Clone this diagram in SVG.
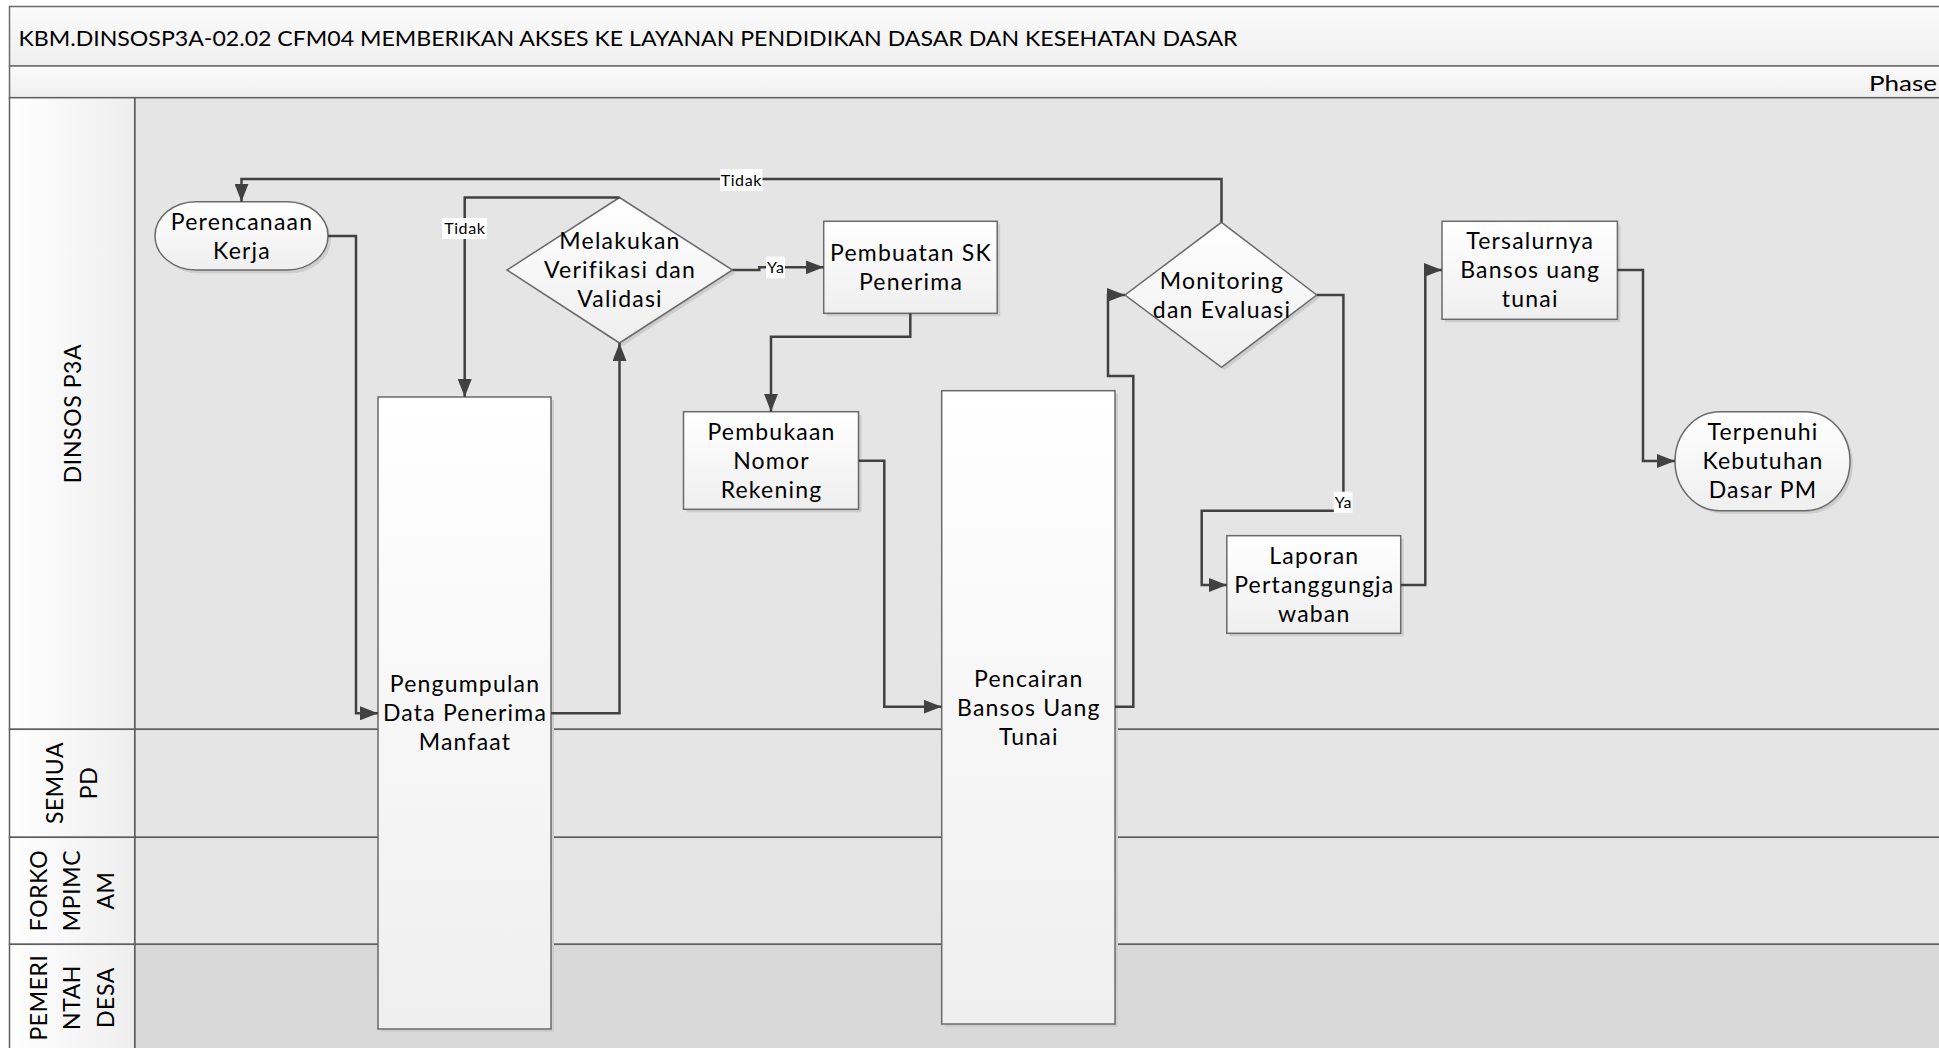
<svg xmlns="http://www.w3.org/2000/svg" width="1939" height="1048" viewBox="0 0 1939 1048">
<style>
.band{stroke:#6b6b6b;stroke-width:1.5}
.lane{fill:#e5e5e5;stroke:#5f5f5f;stroke-width:1.5}
.lane2{fill:#d9d9d9;stroke:#5f5f5f;stroke-width:1.5}
.hdr{fill:url(#hg);stroke:#5f5f5f;stroke-width:1.5}
.node{fill:url(#ng);stroke:#6a6a6a;stroke-width:1.5}
.shadow{fill:#cdcdcd}
.t{font-family:Lato,"Open Sans","Liberation Sans",sans-serif;font-size:23px;letter-spacing:1.2px;fill:#000;text-anchor:middle}
.lt{font-family:Lato,"Open Sans","Liberation Sans",sans-serif;font-size:23px;letter-spacing:0.6px;fill:#000;text-anchor:middle}
.title{font-family:Lato,"Open Sans","Liberation Sans",sans-serif;font-size:21px;fill:#000}
.conn path{fill:none;stroke:#414141;stroke-width:2.5;marker-end:url(#arr)}
.lbox{fill:#fff}
.lbl{font-family:Lato,"Open Sans","Liberation Sans",sans-serif;font-size:16px;letter-spacing:0.6px;fill:#000;text-anchor:middle}
</style>
<defs>
<linearGradient id="ng" x1="0" y1="0" x2="0" y2="1"><stop offset="0" stop-color="#ffffff"/><stop offset="1" stop-color="#efefef"/></linearGradient>
<linearGradient id="bg" x1="0" y1="0" x2="0" y2="1"><stop offset="0" stop-color="#fbfbfb"/><stop offset="1" stop-color="#efefef"/></linearGradient>
<linearGradient id="hg" x1="0" y1="0" x2="1" y2="0"><stop offset="0" stop-color="#ffffff"/><stop offset="1" stop-color="#eeeeee"/></linearGradient>
<marker id="arr" markerUnits="userSpaceOnUse" markerWidth="18" markerHeight="14" refX="18" refY="7" orient="auto"><path d="M0,0 L18,7 L0,14 z" fill="#414141"/></marker>
</defs>

<g id="frame">
<rect x="0" y="0" width="1939" height="1048" fill="#ffffff"/>
<rect class="band" x="9.5" y="6.5" width="2000" height="59.5" fill="url(#bg)"/>
<rect class="band" x="9.5" y="66" width="2000" height="31.7" fill="url(#bg)"/>
<text class="title" x="18.5" y="46" textLength="1219" lengthAdjust="spacingAndGlyphs">KBM.DINSOSP3A-02.02 CFM04 MEMBERIKAN AKSES KE LAYANAN PENDIDIKAN DASAR DAN KESEHATAN DASAR</text>
<text class="title" x="1937" y="91" text-anchor="end" style="font-size:22px" textLength="68" lengthAdjust="spacingAndGlyphs">Phase</text>
</g>

<g id="lane-dinsos">
<rect class="lane" x="134.7" y="97.7" width="1900" height="631.6"/>
<rect class="hdr" x="9.5" y="97.7" width="125.2" height="631.6"/>
<text class="lt" transform="translate(72,413.5) rotate(-90)" x="0" y="8.5">DINSOS P3A</text>
</g>
<g id="lane-semua">
<rect class="lane" x="134.7" y="729.3" width="1900" height="108"/>
<rect class="hdr" x="9.5" y="729.3" width="125.2" height="108"/>
<text class="lt" transform="translate(71.5,783) rotate(-90)"><tspan x="0" y="-8.5">SEMUA</tspan><tspan x="0" y="25.5">PD</tspan></text>
</g>
<g id="lane-forko">
<rect class="lane" x="134.7" y="837.3" width="1900" height="107"/>
<rect class="hdr" x="9.5" y="837.3" width="125.2" height="107"/>
<text class="lt" transform="translate(71.5,890.5) rotate(-90)"><tspan x="0" y="-25">FORKO</tspan><tspan x="0" y="8.5">MPIMC</tspan><tspan x="0" y="42">AM</tspan></text>
</g>
<g id="lane-desa">
<rect class="lane2" x="134.7" y="944.3" width="1900" height="150"/>
<rect class="hdr" x="9.5" y="944.3" width="125.2" height="150"/>
<text class="lt" transform="translate(71.5,997.5) rotate(-90)"><tspan x="0" y="-25">PEMERI</tspan><tspan x="0" y="8.5">NTAH</tspan><tspan x="0" y="42">DESA</tspan></text>
</g>

<g id="n-perencanaan">
<rect class="shadow" x="158" y="205" width="173" height="68.3" rx="41" ry="34"/>
<rect class="node" x="155" y="201.7" width="173" height="68.3" rx="41" ry="34"/>
<text class="t"><tspan x="242" y="229.5">Perencanaan</tspan><tspan x="242" y="258.5">Kerja</tspan></text>
</g>

<g id="n-pengumpulan">
<rect class="shadow" x="381" y="400" width="173" height="632"/>
<rect class="node" x="378" y="397" width="173" height="632"/>
<text class="t"><tspan x="465" y="692">Pengumpulan</tspan><tspan x="465" y="721">Data Penerima</tspan><tspan x="465" y="750">Manfaat</tspan></text>
</g>

<g id="n-verifikasi">
<path class="shadow" d="M622.5,200.5 L735.5,273 L622.5,346 L510,273 z"/>
<path class="node" d="M619.5,197.5 L732.5,270 L619.5,343 L507,270 z"/>
<text class="t"><tspan x="620" y="249">Melakukan</tspan><tspan x="620" y="278">Verifikasi dan</tspan><tspan x="620" y="307">Validasi</tspan></text>
</g>

<g id="n-pembuatan">
<rect class="shadow" x="826.7" y="224.3" width="173.5" height="92"/>
<rect class="node" x="823.7" y="221.3" width="173.5" height="92"/>
<text class="t"><tspan x="911" y="260.5">Pembuatan SK</tspan><tspan x="911" y="289.5">Penerima</tspan></text>
</g>

<g id="n-pembukaan">
<rect class="shadow" x="686.5" y="414.7" width="175" height="97.6"/>
<rect class="node" x="683.5" y="411.7" width="175" height="97.6"/>
<text class="t"><tspan x="771.5" y="439.5">Pembukaan</tspan><tspan x="771.5" y="468.5">Nomor</tspan><tspan x="771.5" y="497.5">Rekening</tspan></text>
</g>

<g id="n-pencairan">
<rect class="shadow" x="944.7" y="393.7" width="173.3" height="633.3"/>
<rect class="node" x="941.7" y="390.7" width="173.3" height="633.3"/>
<text class="t"><tspan x="1028.8" y="687">Pencairan</tspan><tspan x="1028.8" y="716">Bansos Uang</tspan><tspan x="1028.8" y="745">Tunai</tspan></text>
</g>

<g id="n-monitoring">
<path class="shadow" d="M1224.5,225.3 L1319.7,298 L1224.5,370.3 L1128,298 z"/>
<path class="node" d="M1221.5,222.3 L1316.7,295 L1221.5,367.3 L1125,295 z"/>
<text class="t"><tspan x="1222" y="288.5">Monitoring</tspan><tspan x="1222" y="317.5">dan Evaluasi</tspan></text>
</g>

<g id="n-laporan">
<rect class="shadow" x="1229.8" y="538.7" width="173.9" height="97.6"/>
<rect class="node" x="1226.8" y="535.7" width="173.9" height="97.6"/>
<text class="t"><tspan x="1314.3" y="563.5">Laporan</tspan><tspan x="1314.3" y="592.5">Pertanggungja</tspan><tspan x="1314.3" y="621.5">waban</tspan></text>
</g>

<g id="n-tersalurnya">
<rect class="shadow" x="1445" y="224.3" width="175.4" height="98"/>
<rect class="node" x="1442" y="221.3" width="175.4" height="98"/>
<text class="t"><tspan x="1530.2" y="249">Tersalurnya</tspan><tspan x="1530.2" y="278">Bansos uang</tspan><tspan x="1530.2" y="307">tunai</tspan></text>
</g>

<g id="n-terpenuhi">
<rect class="shadow" x="1678" y="414.7" width="175" height="99" rx="45" ry="49.5"/>
<rect class="node" x="1675" y="411.7" width="175" height="99" rx="45" ry="49.5"/>
<text class="t"><tspan x="1763" y="440">Terpenuhi</tspan><tspan x="1763" y="469">Kebutuhan</tspan><tspan x="1763" y="498">Dasar PM</tspan></text>
</g>

<g id="connectors" class="conn">
<path d="M328,236 H356 V713.3 H378"/>
<path d="M551,713.3 H619.5 V343"/>
<path d="M619.5,197.5 H464.7 V397"/>
<path d="M732.5,270 H759.3 V267.3 H823.7"/>
<path d="M910.3,313.3 V336.7 H771 V411.7"/>
<path d="M858.5,460.7 H884.3 V706.7 H941.7"/>
<path d="M1115,706.7 H1133.3 V376 H1108 V295 H1125"/>
<path d="M1221.5,222.3 V179 H241.5 V201.7"/>
<path d="M1316.7,295 H1343.4 V510.7 H1201.7 V585 H1226.8"/>
<path d="M1400.7,585 H1425.3 V270 H1442"/>
<path d="M1617.4,270 H1643 V461 H1675"/>
<g id="labels">
<rect class="lbox" x="720" y="169" width="42.5" height="22"/>
<text class="lbl" x="741.3" y="185.5">Tidak</text>
<rect class="lbox" x="442" y="218" width="45" height="21"/>
<text class="lbl" x="464.8" y="234">Tidak</text>
<rect class="lbox" x="766" y="256.7" width="19" height="21.6"/>
<text class="lbl" x="775.8" y="273">Ya</text>
<rect class="lbox" x="1333.8" y="491.7" width="18.7" height="21"/>
<text class="lbl" x="1343.4" y="507.5">Ya</text>
</g>
</g>
</svg>
